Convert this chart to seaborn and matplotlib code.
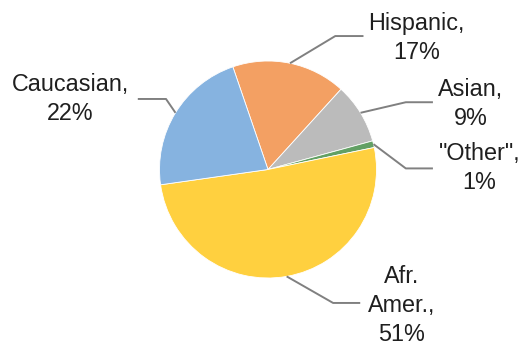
import numpy as np
import matplotlib
matplotlib.use("Agg")
import matplotlib.pyplot as plt
import seaborn as sns

sns.set_theme(style="white")
plt.rcParams["font.family"] = ["Liberation Sans", "DejaVu Sans"]

# Ethnic breakdown (percent), listed clockwise from the Hispanic slice
groups = ["Hispanic", "Asian", "\"Other\"", "Afr.\nAmer.", "Caucasian"]
shares = [17, 9, 1, 51, 22]
colors = ["#F3A063", "#BBBBBB", "#62A064", "#FFD03F", "#86B3E0"]

# label block centres, leader elbows and leader ends (pie-radius units from the centre)
label_xy = [(1.37, 1.21), (1.87, 0.60), (1.95, 0.01), (1.23, -1.25), (-1.82, 0.65)]
elbow_xy = [(0.62, 1.23), (1.27, 0.62), (1.27, 0.01), (0.60, -1.23), (-0.94, 0.65)]
leg_xy = [(0.88, 1.23), (1.52, 0.62), (1.52, 0.01), (0.85, -1.23), (-1.2, 0.65)]

W, H = 529, 343
cx, cy, R = 268, 169.5, 108.5
fig = plt.figure(figsize=(W / 100, H / 100), dpi=100)
ax = fig.add_axes([0, 0, 1, 1])

start = 108.9
wedges, _ = ax.pie(shares, colors=colors, startangle=start, counterclock=False,
                   radius=1.0, wedgeprops=dict(edgecolor="white", linewidth=0.6))

ax.set_xlim(-cx / R, (W - cx) / R)
ax.set_ylim(-(H - cy) / R, cy / R)
ax.set_aspect("equal", adjustable="box")
ax.axis("off")

line_col = "#808080"
for w, name, val, lxy, exy, gxy in zip(wedges, groups, shares, label_xy, elbow_xy, leg_xy):
    mid = np.deg2rad((w.theta1 + w.theta2) / 2)
    p0 = (np.cos(mid), np.sin(mid))
    ax.plot([p0[0], exy[0], gxy[0]], [p0[1], exy[1], gxy[1]],
            color=line_col, lw=1.4, solid_capstyle="butt")
    ax.text(lxy[0], lxy[1], f"{name},\n{val}%", ha="center", va="center",
            fontsize=16.8, color="#1F1F1F", linespacing=1.33)

fig.savefig("out.png", dpi=100)
